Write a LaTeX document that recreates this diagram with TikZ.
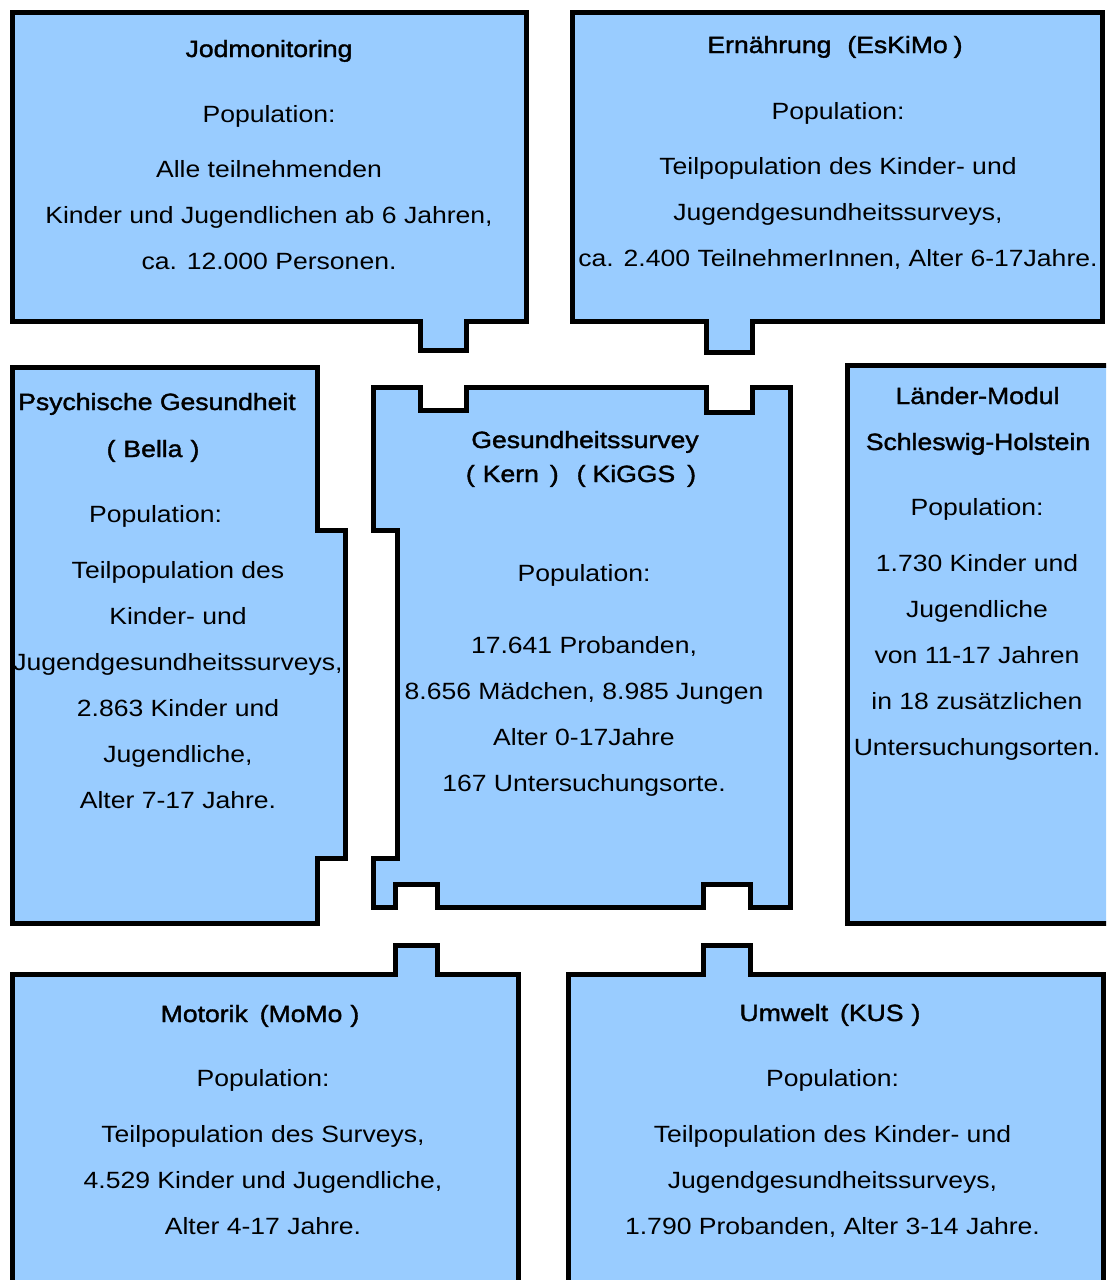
\documentclass[tikz,border=0pt]{standalone}
\usepackage{fontspec}
\setmainfont{Liberation Sans}
\newfontfamily\normfam{Liberation Sans}[FakeStretch=1.13]
\newfontfamily\titlefam{Liberation Sans}[FakeStretch=1.13,FakeBold=1.6]
\definecolor{boxblue}{RGB}{153,204,255}
\begin{document}
\begin{tikzpicture}[x=1pt,y=-1pt,
  piece/.style={fill=boxblue, draw=black, line width=5pt},
  txt/.style={anchor=base, inner sep=0pt, font=\normfam\fontsize{23.5}{28}\selectfont},
  ttl/.style={anchor=base, inner sep=0pt, font=\titlefam\fontsize{23.5}{28}\selectfont}]
\useasboundingbox (0,0) rectangle (1106,1280);
\clip (0,0) rectangle (1106,1280);
% pieces
\draw[piece] (12,12) -- (526,12) -- (526,321) -- (466,321) -- (466,350) -- (420,350) -- (420,321) -- (12,321) -- cycle;
\draw[piece] (572,12) -- (1102,12) -- (1102,321) -- (752,321) -- (752,352) -- (706,352) -- (706,321) -- (572,321) -- cycle;
\draw[piece] (12,367) -- (317,367) -- (317,530) -- (345,530) -- (345,858) -- (317,858) -- (317,923) -- (12,923) -- cycle;
\draw[piece] (373,387) -- (420,387) -- (420,410) -- (466,410) -- (466,387) -- (706,387) -- (706,412) -- (752,412) -- (752,387) -- (790,387) -- (790,907) -- (750,907) -- (750,884) -- (703,884) -- (703,907) -- (437,907) -- (437,884) -- (395,884) -- (395,907) -- (373,907) -- (373,858) -- (397,858) -- (397,530) -- (373,530) -- cycle;
\draw[piece] (847,365) rectangle (1120,923);
\draw[piece] (12,974) -- (395,974) -- (395,945) -- (437,945) -- (437,974) -- (518,974) -- (518,1300) -- (12,1300) -- cycle;
\draw[piece] (568,974) -- (703,974) -- (703,945) -- (750,945) -- (750,974) -- (1103,974) -- (1103,1300) -- (568,1300) -- cycle;
% Jodmonitoring
\node[ttl] (a0) at (269,57) {Jodmonitoring};
\node[txt] (a1) at (269,122) {Population:};
\node[txt] (a2) at (269,177) {Alle teilnehmenden};
\node[txt] (a3) at (269,223) {Kinder und Jugendlichen ab 6 Jahren,};
\node[txt] (a4) at (269,269) {ca. 12.000 Personen.};
% Ernaehrung
\node[ttl] (b0) at (835,53) {Ernährung\hspace{16pt}(EsKiMo\hspace{6pt})};
\node[txt] (b1) at (838,119) {Population:};
\node[txt] (b2) at (838,174) {Teilpopulation des Kinder- und};
\node[txt] (b3) at (838,220) {Jugendgesundheitssurveys,};
\node[txt] (b4) at (838,266) {ca. 2.400 TeilnehmerInnen, Alter 6-17Jahre.};
% Psychische Gesundheit
\node[ttl] (c0) at (157,410) {Psychische Gesundheit};
\node[ttl] (c1) at (153,457) {(\hspace{8pt}Bella\hspace{8pt})};
\node[txt] (c2) at (155.5,522) {Population:};
\node[txt] (c3) at (178,578) {Teilpopulation des};
\node[txt] (c4) at (178,624) {Kinder- und};
\node[txt] (c5) at (178,670) {Jugendgesundheitssurveys,};
\node[txt] (c6) at (178,716) {2.863 Kinder und};
\node[txt] (c7) at (178,762) {Jugendliche,};
\node[txt] (c8) at (178,808) {Alter 7-17 Jahre.};
% Kern
\node[ttl] (d0) at (585,448) {Gesundheitssurvey};
\node[ttl] (d1) at (581,482) {(\hspace{8pt}Kern\hspace{11pt})\hspace{18pt}(\hspace{7pt}KiGGS\hspace{12pt})};
\node[txt] (d2) at (584,581) {Population:};
\node[txt] (d3) at (584,653) {17.641 Probanden,};
\node[txt] (d4) at (584,699) {8.656 Mädchen, 8.985 Jungen};
\node[txt] (d5) at (584,745) {Alter 0-17Jahre};
\node[txt] (d6) at (584,791) {167 Untersuchungsorte.};
% Laender-Modul
\node[ttl] (e0) at (977.5,404) {Länder-Modul};
\node[ttl] (e1) at (978,450) {Schleswig-Holstein};
\node[txt] (e2) at (977,515) {Population:};
\node[txt] (e3) at (977,571) {1.730 Kinder und};
\node[txt] (e4) at (977,617) {Jugendliche};
\node[txt] (e5) at (977,663) {von 11-17 Jahren};
\node[txt] (e6) at (977,709) {in 18 zusätzlichen};
\node[txt] (e7) at (977,755) {Untersuchungsorten.};
% Motorik
\node[ttl] (f0) at (260,1022) {Motorik\hspace{12pt}(MoMo\hspace{8pt})};
\node[txt] (f1) at (263,1086) {Population:};
\node[txt] (f2) at (263,1142) {Teilpopulation des Surveys,};
\node[txt] (f3) at (263,1188) {4.529 Kinder und Jugendliche,};
\node[txt] (f4) at (263,1234) {Alter 4-17 Jahre.};
% Umwelt
\node[ttl] (g0) at (830,1021) {Umwelt\hspace{12pt}(KUS\hspace{8pt})};
\node[txt] (g1) at (832.5,1086) {Population:};
\node[txt] (g2) at (832.5,1142) {Teilpopulation des Kinder- und};
\node[txt] (g3) at (832.5,1188) {Jugendgesundheitssurveys,};
\node[txt] (g4) at (832.5,1234) {1.790 Probanden, Alter 3-14 Jahre.};
\end{tikzpicture}
\end{document}
